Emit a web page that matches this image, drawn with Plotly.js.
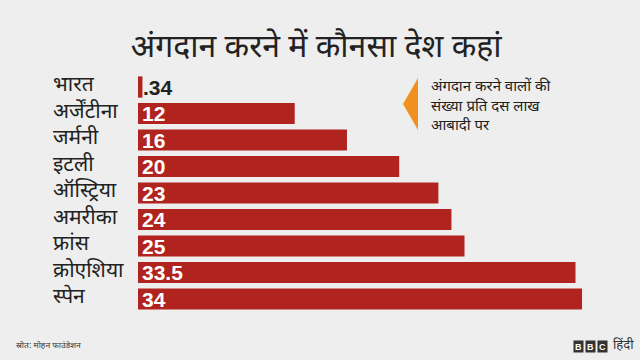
<!DOCTYPE html>
<html><head><meta charset="utf-8">
<script src="https://cdn.plot.ly/plotly-3.0.1.min.js"></script>
<style>html,body{margin:0;padding:0;background:#eeeeee;}#chart{width:640px;height:360px;}</style>
</head><body><div id="chart"></div>
<script>
const countries = ["भारत","अर्जेंटीना","जर्मनी","इटली","ऑस्ट्रिया","अमरीका","फ्रांस","क्रोएशिया","स्पेन"];
const values = [0.34, 12, 16, 20, 23, 24, 25, 33.5, 34];
const valueLabels = [".34","12","16","20","23","24","25","33.5","34"];
const titleText = "अंगदान करने में कौनसा देश कहां";
const noteText = "अंगदान करने वालों की<br>संख्या प्रति दस लाख<br>आबादी पर";
const sourceText = "स्रोत: मोहन फाउंडेशन";

const W = 640, H = 360;
const L = 138, R = 6, T = 72, B = 44;
const pw = W - L - R, ph = H - T - B;
const px = x => (x - L) / pw;
const py = y => (H - B - y) / ph;
const FONT = "'Noto Sans Devanagari','Noto Sans','Liberation Sans',Arial,sans-serif";

const annotations = [];
countries.forEach((c, i) => {
  annotations.push({xref:'paper', yref:'y', x: px(51), y: c, xanchor:'left', yanchor:'middle', yshift:1,
    text: c, showarrow:false, font:{family:FONT, size:21, color:'#222222'}});
  annotations.push({xref:'x', yref:'y', x: 0, y: c, xanchor:'left', yanchor:'middle', xshift: i===0 ? 3 : 2,
    text: '<b>' + valueLabels[i] + '</b>', showarrow:false,
    font:{family:"'Liberation Sans',Arial,sans-serif", size:21, color: i===0 ? '#222222' : '#ffffff'}});
});
annotations.push({xref:'paper', yref:'paper', x: px(429), y: py(75), xanchor:'left', yanchor:'top',
  align:'left', text: noteText, showarrow:false, font:{family:FONT, size:15, color:'#222222'}});
annotations.push({xref:'paper', yref:'paper', x: px(14), y: py(345), xanchor:'left', yanchor:'middle',
  text: sourceText, showarrow:false, font:{family:FONT, size:8.5, color:'#333333'}});
['B','B','C'].forEach((ch, k) => {
  annotations.push({xref:'paper', yref:'paper', x: px(578 + k*12), y: py(346), xanchor:'center', yanchor:'middle',
    text: '<b>' + ch + '</b>', showarrow:false, bgcolor:'#333333', width:9, height:11, borderpad:0,
    font:{family:"'Liberation Sans',Arial,sans-serif", size:9, color:'#ffffff'}});
});
annotations.push({xref:'paper', yref:'paper', x: px(611), y: py(345), xanchor:'left', yanchor:'middle',
  text: 'हिंदी', showarrow:false, font:{family:FONT, size:13, color:'#333333'}});

const shapes = [{type:'path', xref:'paper', yref:'paper',
  path: `M ${px(403)} ${py(104)} L ${px(418)} ${py(78)} L ${px(418)} ${py(130)} Z`,
  fillcolor:'#f0901e', line:{width:0}}];

Plotly.newPlot('chart', [{
  type:'bar', orientation:'h', x: values, y: countries,
  marker:{color:'#b0231e', line:{width:0}}, hoverinfo:'none'
}], {
  width:W, height:H, margin:{l:L, r:R, t:T, b:B},
  paper_bgcolor:'#eeeeee', plot_bgcolor:'#eeeeee', bargap:0.2, showlegend:false,
  title:{text: titleText, x:0.494, xanchor:'center', y: 1 - 46/H, yanchor:'middle',
    font:{family:FONT, size:32, color:'#222222'}},
  xaxis:{range:[0, pw/13.06], visible:false, fixedrange:true},
  yaxis:{autorange:'reversed', visible:false, fixedrange:true},
  annotations, shapes
}, {staticPlot:true, displayModeBar:false});
</script></body></html>
